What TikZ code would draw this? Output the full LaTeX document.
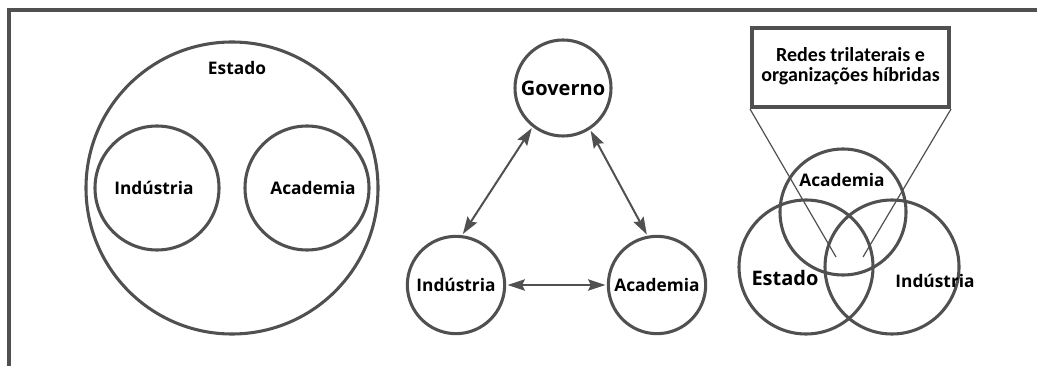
\documentclass[tikz,border=0pt]{standalone}
\usepackage{fontspec}
\setmainfont{Open Sans}
\newfontfamily\boxfont{Carlito}
\usepackage{tikz}
\usetikzlibrary{
    positioning,
    arrows.meta,
    calc
}
\definecolor{linegray}{HTML}{505050}

\begin{document}
\begin{tikzpicture}[x=0.75pt,y=-0.75pt]
      \useasboundingbox (0,0) rectangle (1037,366);

      % Define styles:
      \tikzset{
            ring/.style={circle, draw=linegray, line width=2.3pt, inner sep=0pt},
            lbl/.style={font=\fontsize{13}{15}\selectfont\bfseries, inner sep=0pt},
            link/.style={{Stealth[length=13pt,width=8.5pt,inset=2pt]}-{Stealth[length=13pt,width=8.5pt,inset=2pt]}, linegray, line width=1.5pt, shorten <=1pt, shorten >=1pt},
            zoomline/.style={linegray, line width=0.9pt}
      };

      % Frame (only top and left edges are visible)
      \draw[linegray, line width=3pt] (9,366) -- (9,10) -- (1037,10);

      % Left: nested model
      \node[ring, minimum size=219pt] (Estado_big) at (232,188) {};
      \node[lbl] (Estado_lbl) at (237,68) {Estado};
      \node[ring, minimum size=93pt] (Ind_in) at (157,188) {};
      \node[lbl] (Ind_in_lbl) at (154,188) {Indústria};
      \node[ring, minimum size=93pt] (Acad_in) at (307,188) {};
      \node[lbl] (Acad_in_lbl) at (313,188) {Academia};

      % Middle: laissez-faire triangle
      \node[ring, minimum size=72pt, font=\fontsize{15}{17}\selectfont\bfseries] (Gov) at (563,88) {Governo};
      \node[ring, minimum size=73pt, font=\fontsize{13}{15}\selectfont\bfseries] (Ind_mid) at (456,285) {Indústria};
      \node[ring, minimum size=73pt, font=\fontsize{13}{15}\selectfont\bfseries] (Acad_mid) at (657,285) {Academia};

      \draw[link] (Gov.232) -- (Ind_mid.83);
      \draw[link] (Gov.303) -- (Acad_mid.101);
      \draw[link] (Ind_mid.east) -- (Acad_mid.west);

      % Right: triple helix overlap
      \node[ring, minimum size=94.5pt] (Acad_v) at (843,212) {};
      \node[ring, minimum size=100.5pt] (Estado_v) at (806,267) {};
      \node[ring, minimum size=100.5pt] (Ind_v) at (892,267) {};
      \node[lbl] (Acad_v_lbl) at (842,180) {Academia};
      \node[lbl, font=\fontsize{15}{17}\selectfont\bfseries] (Estado_v_lbl) at (785,278) {Estado};
      \node[lbl] (Ind_v_lbl) at (935,281) {Indústria};

      % Callout box with lines into the centre of the overlap
      \node[draw=linegray, line width=3pt, fill=white, minimum width=147.75pt, minimum height=59.25pt, inner sep=0pt] (hybrid) at (850.5,67.5)
            {\raisebox{-5pt}{\boxfont\fontsize{15}{15}\selectfont\bfseries
             \begin{tabular}{@{}c@{}}Redes trilaterais e\\organizações híbridas\end{tabular}}};
      \coordinate (core_left) at (836,257);
      \coordinate (core_right) at (863,257);
      \draw[zoomline] (hybrid.south west) -- (core_left);
      \draw[zoomline] (hybrid.south east) -- (core_right);
\end{tikzpicture}
\end{document}
